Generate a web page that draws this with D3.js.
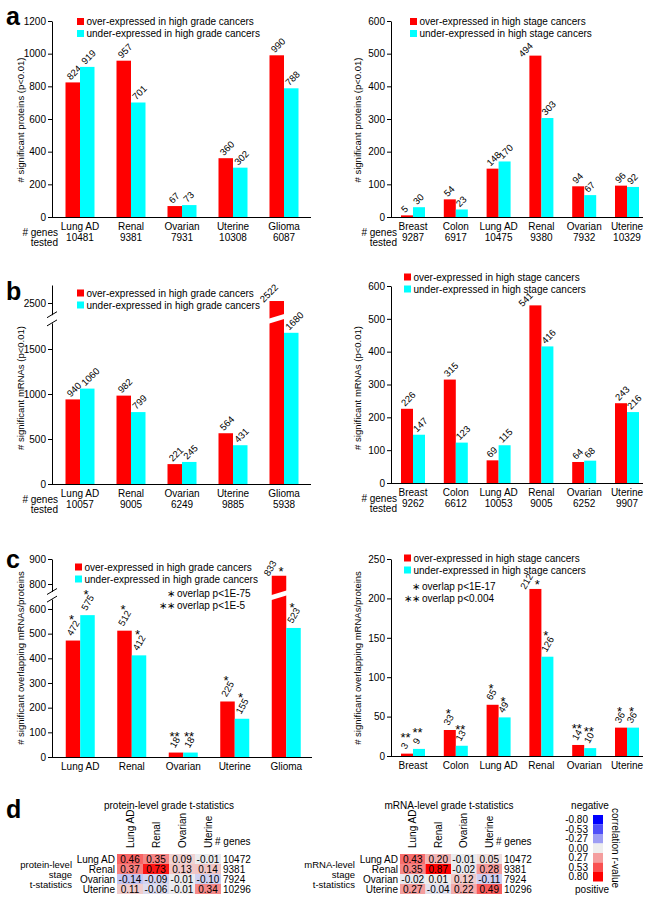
<!DOCTYPE html>
<html>
<head>
<meta charset="utf-8">
<script src="https://cdn.jsdelivr.net/npm/d3@7"></script>
<style>
  body { margin: 0; background: #fff; }
  svg { font-family: "Liberation Sans", Arial, Helvetica, sans-serif; }
</style>
</head>
<body>
<svg id="fig" width="656" height="900"></svg>
<script>
// ---- data ----
const gradeCats = ["Lung AD", "Renal", "Ovarian", "Uterine", "Glioma"];
const stageCats = ["Breast", "Colon", "Lung AD", "Renal", "Ovarian", "Uterine"];

const gradeProtGenes = [10481, 9381, 7931, 10308, 6087];
const gradeProtOver  = [824, 957, 67, 360, 990];
const gradeProtUnder = [919, 701, 73, 302, 788];

const stageProtGenes = [9287, 6917, 10475, 9380, 7932, 10329];
const stageProtOver  = [5, 54, 148, 494, 94, 96];
const stageProtUnder = [30, 23, 170, 303, 67, 92];

const gradeMrnaGenes = [10057, 9005, 6249, 9885, 5938];
const gradeMrnaOver  = [940, 982, 221, 564, 2522];
const gradeMrnaUnder = [1060, 799, 245, 431, 1680];

const stageMrnaGenes = [9262, 6612, 10053, 9005, 6252, 9907];
const stageMrnaOver  = [226, 315, 69, 541, 64, 243];
const stageMrnaUnder = [147, 123, 115, 416, 68, 216];

const gradeOvlOver     = [472, 512, 18, 225, 833];
const gradeOvlUnder    = [575, 412, 18, 155, 523];
const gradeOvlOverSig  = ["*", "*", "**", "*", "*"];
const gradeOvlUnderSig = ["*", "*", "**", "*", "*"];

const stageOvlOver     = [3, 33, 65, 212, 14, 36];
const stageOvlUnder    = [9, 13, 49, 126, 10, 36];
const stageOvlOverSig  = ["**", "*", "*", "*", "**", "*"];
const stageOvlUnderSig = ["**", "**", "*", "*", "**", "*"];

const gradeTicksA = [0, 200, 400, 600, 800, 1000, 1200];
const stageTicks  = [0, 100, 200, 300, 400, 500, 600];
const gradeTicksB = [0, 500, 1000, 1500, 2500];
const gradeTicksC = [0, 100, 200, 300, 400, 500, 600, 800, 900];
const stageTicksC = [0, 50, 100, 150, 200, 250];

const hmCancers = ["Lung AD", "Renal", "Ovarian", "Uterine"];
const hmGenes   = [10472, 9381, 7924, 10296];
const protCorr = [
  [0.46, 0.35, 0.09, -0.01],
  [0.37, 0.73, 0.13, 0.14],
  [-0.14, -0.09, -0.01, -0.10],
  [0.11, -0.06, -0.01, 0.34]
];
const mrnaCorr = [
  [0.43, 0.20, -0.01, 0.05],
  [0.35, 0.87, -0.02, 0.28],
  [-0.02, 0.01, 0.12, -0.11],
  [0.27, -0.04, 0.22, 0.49]
];
const corrTicks = [-0.80, -0.53, -0.27, 0.00, 0.27, 0.53, 0.80];

// ---- drawing ----
const svg = d3.select("#fig");
const RED = "#ff0000", CYAN = "#00ffff";
const corrColor = d3.scaleLinear().domain([-0.8, 0, 0.8])
  .range(["#0000ff", "#eeeeee", "#ff0000"]).clamp(true);

function linearY(max, base, top) {
  const s = d3.scaleLinear().domain([0, max]).range([base, top]);
  return {segs: [s], f: s, base: base};
}

function brokenY(lowDom, lowRange, upDom, upRange) {
  const lo = d3.scaleLinear().domain(lowDom).range(lowRange);
  const up = d3.scaleLinear().domain(upDom).range(upRange);
  return {
    segs: [lo, up],
    f: v => v <= lowDom[1] ? lo(v) : up(v),
    base: lowRange[0],
    cut: lowDom[1],
    brk: [lowRange[1], upRange[0]]
  };
}

function star(g, s, x, cy, anchor) {
  g.append("text")
    .attr("x", x).attr("y", cy + 7.4)
    .attr("text-anchor", anchor || "middle")
    .attr("font-size", 13)
    .text(s);
}

function drawBars(p) {
  const g = svg.append("g");
  const x = d3.scaleBand().domain(p.cats).range(p.xr);
  const cx = c => x(c) + x.bandwidth() / 2;
  const base = p.y.base;

  // y axis, one piece per segment
  p.y.segs.forEach(s => {
    const d = s.domain();
    const axis = d3.axisLeft(s)
      .tickValues(p.ticks.filter(t => t >= d[0] && t <= d[1]))
      .tickFormat(d3.format("d"))
      .tickSize(4).tickSizeOuter(0).tickPadding(2);
    const ag = g.append("g").attr("transform", `translate(${p.axisX},0)`).call(axis);
    ag.attr("font-family", null).attr("font-size", 10);
    ag.selectAll("text").attr("fill", "#000");
  });

  if (p.y.brk) {
    p.y.brk.forEach(yb => {
      g.append("line")
        .attr("x1", p.axisX - 5).attr("y1", yb + 3)
        .attr("x2", p.axisX + 5).attr("y2", yb - 3)
        .attr("stroke", "#000");
    });
  }

  // x baseline
  g.append("line")
    .attr("x1", p.axisX).attr("x2", p.axisEnd)
    .attr("y1", base + 0.5).attr("y2", base + 0.5)
    .attr("stroke", "#000");

  const series = [
    {vals: p.over,  color: RED,  dx: -p.barW, sig: p.overSig},
    {vals: p.under, color: CYAN, dx: 0,       sig: p.underSig}
  ];

  series.forEach((s, si) => {
    s.vals.forEach((v, i) => {
      const c = p.cats[i];
      const left = cx(c) + s.dx;
      const top = p.y.f(v);
      g.append("rect")
        .attr("x", left).attr("y", top)
        .attr("width", p.barW).attr("height", base - top)
        .attr("fill", s.color);

      if (p.y.brk && v > p.y.cut) {
        const m = (p.y.brk[0] + p.y.brk[1]) / 2;
        g.append("polygon")
          .attr("points", [
            [left - 1, m + 5], [left + p.barW + 1, m],
            [left + p.barW + 1, m - 5], [left - 1, m]
          ].map(q => q.join(",")).join(" "))
          .attr("fill", "#fff");
      }

      const bc = left + p.barW / 2;
      const side = si === 0 && p.side && p.side.includes(i);
      const t = g.append("text").attr("font-size", 9.5).text(v);

      if (!s.sig) {
        const x0 = side ? bc - 13 : bc - 2;
        const y0 = side ? top + 2 : top - 2;
        t.attr("transform", `translate(${x0},${y0}) rotate(-45)`);
      } else {
        const len = t.node().getComputedTextLength();
        if (side) {
          t.attr("transform", `translate(${bc - 10},${top + 1}) rotate(-60)`);
          star(g, s.sig[i], bc + 2, top - 7);
        } else {
          const y0 = top - 4;
          t.attr("transform", `translate(${bc - 1},${y0}) rotate(-60)`);
          star(g, s.sig[i], bc - 1.5, y0 - Math.max(len * 0.866, 9) - 6);
        }
      }
    });
  });

  // category labels
  p.cats.forEach((c, i) => {
    g.append("text").attr("x", cx(c)).attr("y", base + 13)
      .attr("text-anchor", "middle").attr("font-size", 10).text(c);
    if (p.genes) {
      g.append("text").attr("x", cx(c)).attr("y", base + 23.5)
        .attr("text-anchor", "middle").attr("font-size", 10).text(p.genes[i]);
    }
  });
  if (p.genes) {
    g.append("text").attr("x", p.axisX + 6).attr("y", base + 18.5)
      .attr("text-anchor", "end").attr("font-size", 10).text("# genes");
    g.append("text").attr("x", p.axisX + 6).attr("y", base + 28.5)
      .attr("text-anchor", "end").attr("font-size", 10).text("tested");
  }

  // y label
  g.append("text")
    .attr("transform", `translate(${p.ylabelX},${p.ylabelY}) rotate(-90)`)
    .attr("text-anchor", "middle").attr("font-size", 9.5)
    .text(p.ylabel);

  // legend
  p.legend.forEach((lab, k) => {
    const cy = p.ly + k * 12;
    g.append("rect").attr("x", p.lx).attr("y", cy - 3.5)
      .attr("width", 7).attr("height", 7).attr("fill", k === 0 ? RED : CYAN);
    g.append("text").attr("x", p.lx + 9.5).attr("y", cy + 3.5)
      .attr("font-size", 10).text(lab);
  });

  // significance notes: stars and text in one line, stars right-aligned
  if (p.notes) {
    p.notes.forEach((n, k) => {
      const yb = p.ny + k * 11.5 + 3;
      const t = g.append("text").attr("y", yb).attr("font-size", 10);
      const st = t.append("tspan").text(n[0].replace(/\*/g, "\u2217"));
      t.append("tspan").attr("dx", 2).text(n[1]);
      const w = st.node().getComputedTextLength();
      t.attr("x", p.nx - w - 2);
    });
  }
}

const gradeLegend = ["over-expressed in high grade cancers", "under-expressed in high grade cancers"];
const stageLegend = ["over-expressed in high stage cancers", "under-expressed in high stage cancers"];

drawBars({
  cats: gradeCats, genes: gradeProtGenes, over: gradeProtOver, under: gradeProtUnder,
  xr: [54.5, 309.5], barW: 14.5, axisX: 52, axisEnd: 311,
  y: linearY(1200, 217, 21), ticks: gradeTicksA,
  ylabel: "# significant proteins (p<0.01)", ylabelX: 24, ylabelY: 120,
  legend: gradeLegend, lx: 77, ly: 21.5
});

drawBars({
  cats: stageCats, genes: stageProtGenes, over: stageProtOver, under: stageProtUnder,
  xr: [391.6, 648.4], barW: 12, axisX: 391, axisEnd: 643,
  y: linearY(600, 217, 21), ticks: stageTicks, side: [3],
  ylabel: "# significant proteins (p<0.01)", ylabelX: 361, ylabelY: 120,
  legend: stageLegend, lx: 410, ly: 21.5
});

drawBars({
  cats: gradeCats, genes: gradeMrnaGenes, over: gradeMrnaOver, under: gradeMrnaUnder,
  xr: [54.5, 309.5], barW: 14.5, axisX: 52, axisEnd: 311,
  y: brokenY([0, 1790], [484, 322.9], [2370, 2700], [314.7, 285]), ticks: gradeTicksB, side: [4],
  ylabel: "# significant mRNAs (p<0.01)", ylabelX: 24, ylabelY: 388,
  legend: gradeLegend, lx: 77, ly: 293
});

drawBars({
  cats: stageCats, genes: stageMrnaGenes, over: stageMrnaOver, under: stageMrnaUnder,
  xr: [391.6, 648.4], barW: 12, axisX: 391, axisEnd: 643,
  y: linearY(600, 483, 286), ticks: stageTicks, side: [3],
  ylabel: "# significant mRNAs (p<0.01)", ylabelX: 361, ylabelY: 388,
  legend: stageLegend, lx: 404, ly: 277
});

drawBars({
  cats: gradeCats, over: gradeOvlOver, under: gradeOvlUnder,
  overSig: gradeOvlOverSig, underSig: gradeOvlUnderSig,
  xr: [54.5, 312], barW: 14.5, axisX: 52, axisEnd: 312,
  y: brokenY([0, 640], [757, 599.1], [770, 900], [591.5, 559]), ticks: gradeTicksC, side: [4],
  ylabel: "# significant overlapping mRNAs/proteins", ylabelX: 24, ylabelY: 658,
  legend: gradeLegend, lx: 75, ly: 567,
  notes: [["*", "overlap p<1E-75"], ["**", "overlap p<1E-5"]], nx: 177, ny: 594
});

drawBars({
  cats: stageCats, over: stageOvlOver, under: stageOvlUnder,
  overSig: stageOvlOverSig, underSig: stageOvlUnderSig,
  xr: [391.6, 648.4], barW: 12, axisX: 391, axisEnd: 643,
  y: linearY(250, 756, 559), ticks: stageTicksC, side: [3],
  ylabel: "# significant overlapping mRNAs/proteins", ylabelX: 361, ylabelY: 658,
  legend: stageLegend, lx: 404, ly: 558,
  notes: [["*", "overlap p<1E-17"], ["**", "overlap p<0.004"]], nx: 422, ny: 587
});

// ---- panel d heatmaps ----
function drawHeat(h) {
  const g = svg.append("g");
  const x = d3.scaleBand().domain(hmCancers).range([h.x0, h.x0 + 4 * h.cw]);
  const y = d3.scaleBand().domain(hmCancers).range([854, 894]);

  h.data.forEach((row, i) => row.forEach((v, j) => {
    g.append("rect")
      .attr("x", x(hmCancers[j])).attr("y", y(hmCancers[i]))
      .attr("width", x.bandwidth()).attr("height", y.bandwidth())
      .attr("fill", corrColor(v));
    g.append("text")
      .attr("x", x(hmCancers[j]) + x.bandwidth() / 2)
      .attr("y", y(hmCancers[i]) + y.bandwidth() / 2 + 3.5)
      .attr("text-anchor", "middle").attr("font-size", 10)
      .text(v.toFixed(2));
  }));

  hmCancers.forEach((c, i) => {
    g.append("text")
      .attr("transform", `translate(${x(c) + x.bandwidth() / 2 + 3.5},848) rotate(-90)`)
      .attr("font-size", 10).text(c);
    g.append("text").attr("x", h.x0 - 2).attr("y", y(c) + y.bandwidth() / 2 + 3.5)
      .attr("text-anchor", "end").attr("font-size", 10).text(c);
    g.append("text").attr("x", h.x0 + 4 * h.cw + 2).attr("y", y(c) + y.bandwidth() / 2 + 3.5)
      .attr("font-size", 10).text(hmGenes[i]);
  });

  g.append("text").attr("x", h.x0 + 4 * h.cw - 6).attr("y", 845)
    .attr("font-size", 10).text("# genes");

  g.append("text").attr("x", h.titleX).attr("y", 809)
    .attr("text-anchor", "middle").attr("font-size", 10).text(h.title);

  [h.sideTitle, "stage", "t-statistics"].forEach((s, k) => {
    g.append("text").attr("x", h.sideX).attr("y", 867.5 + k * 10)
      .attr("text-anchor", "end").attr("font-size", 9.5).text(s);
  });
}

drawHeat({
  data: protCorr, x0: 117, cw: 26, titleX: 169, sideX: 72,
  title: "protein-level grade t-statistics", sideTitle: "protein-level"
});
drawHeat({
  data: mrnaCorr, x0: 400, cw: 25.5, titleX: 449, sideX: 355,
  title: "mRNA-level grade t-statistics", sideTitle: "mRNA-level"
});

// colour key
const key = svg.append("g");
const ky = d3.scaleBand().domain(corrTicks).range([815, 881.5]);
corrTicks.forEach(t => {
  key.append("rect").attr("x", 593).attr("y", ky(t))
    .attr("width", 10).attr("height", ky.bandwidth()).attr("fill", corrColor(t));
  key.append("text").attr("x", 588).attr("y", ky(t) + ky.bandwidth() / 2 + 3.5)
    .attr("text-anchor", "end").attr("font-size", 10).text(t.toFixed(2));
});
key.append("text").attr("x", 590).attr("y", 809).attr("text-anchor", "middle")
  .attr("font-size", 10).text("negative");
key.append("text").attr("x", 592).attr("y", 893).attr("text-anchor", "middle")
  .attr("font-size", 10).text("positive");
key.append("text").attr("transform", "translate(612,848) rotate(90)")
  .attr("text-anchor", "middle").attr("font-size", 10).text("correlation  r-value");

// panel letters
[["a", 25], ["b", 300], ["c", 568], ["d", 818]].forEach(([l, yy]) => {
  svg.append("text").attr("x", 6).attr("y", yy)
    .attr("font-size", 25).attr("font-weight", "bold").text(l);
});
</script>
</body>
</html>
